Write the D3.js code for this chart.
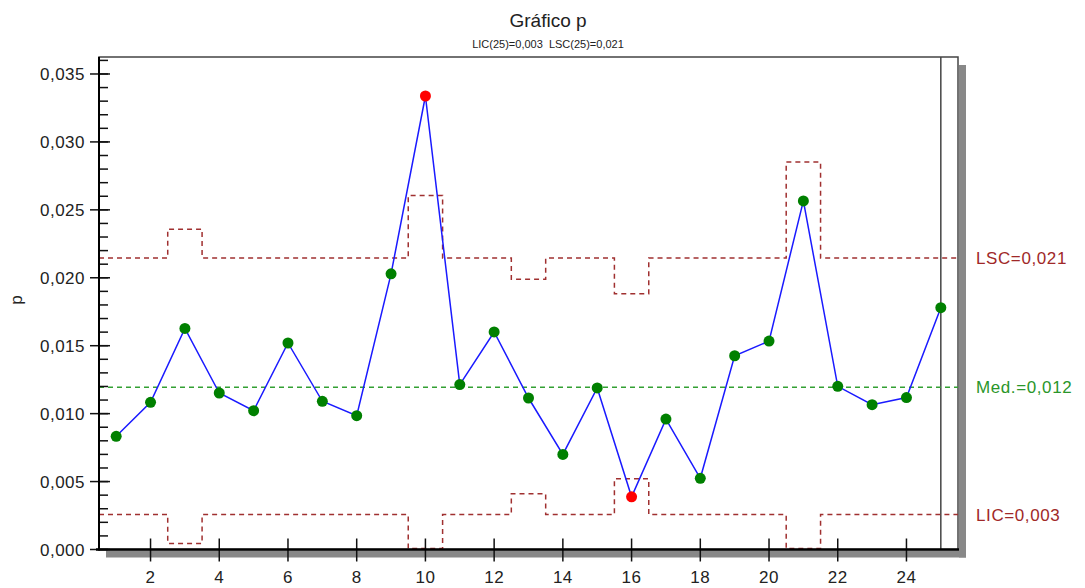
<!DOCTYPE html>
<html>
<head>
<meta charset="utf-8">
<title>Gráfico p</title>
<script src="https://d3js.org/d3.v7.min.js"></script>
<style>
  body { margin: 0; background: #fff; }
  text { font-family: "Liberation Sans", Arial, sans-serif; fill: #222; }
  .tick-label { font-size: 17px; letter-spacing: 0.5px; }
</style>
</head>
<body>
<div id="chart"></div>
<script>
// subgroup numbers and the proportion defective of each one
var subgroups = [1, 2, 3, 4, 5, 6, 7, 8, 9, 10, 11, 12, 13, 14, 15, 16, 17, 18, 19, 20, 21, 22, 23, 24, 25];
var pValues = [0.00833, 0.01083, 0.01627, 0.01152, 0.01022, 0.01520, 0.01091, 0.00985, 0.02029, 0.03338,
               0.01214, 0.01601, 0.01115, 0.00700, 0.01189, 0.00388, 0.00960, 0.00524, 0.01426, 0.01534,
               0.02566, 0.01201, 0.01066, 0.01118, 0.01780];
// control limits (they change with the size of each subgroup)
var ucl = [0.02145, 0.02145, 0.02358, 0.02145, 0.02145, 0.02145, 0.02145, 0.02145, 0.02145, 0.02605,
           0.02145, 0.02145, 0.01990, 0.02145, 0.02145, 0.01882, 0.02145, 0.02145, 0.02145, 0.02145,
           0.02853, 0.02145, 0.02145, 0.02145, 0.02145];
var lcl = [0.00257, 0.00257, 0.00044, 0.00257, 0.00257, 0.00257, 0.00257, 0.00257, 0.00257, 0,
           0.00257, 0.00257, 0.00410, 0.00257, 0.00257, 0.00520, 0.00257, 0.00257, 0.00257, 0.00257,
           0, 0.00257, 0.00257, 0.00257, 0.00257];
var centerValue = 0.01194;
var yTicks = [0, 0.005, 0.010, 0.015, 0.020, 0.025, 0.030, 0.035];
var xTicks = [2, 4, 6, 8, 10, 12, 14, 16, 18, 20, 22, 24];
var limitLabels = ["LSC=0,021", "Med.=0,012", "LIC=0,003"];

var width = 1085, height = 588;
var plotLeft = 99, plotRight = 958, plotTop = 57, plotBottom = 549.5;

var svg = d3.select("#chart").append("svg")
  .attr("width", width)
  .attr("height", height);

var x = d3.scaleLinear().domain([0.5, 25.5]).range([plotLeft, plotRight]);
var y = d3.scaleLinear().domain([0, 0.03625]).range([plotBottom, plotTop]);

var fmt = function(v) { return d3.format(".3f")(v).replace(".", ","); };

// shadow behind the plot frame
svg.append("rect").attr("x", plotRight + 1).attr("y", plotTop + 8).attr("width", 7).attr("height", plotBottom - plotTop)
  .attr("fill", "#888");
svg.append("rect").attr("x", plotLeft + 7).attr("y", plotBottom + 1).attr("width", plotRight - plotLeft + 1).attr("height", 7)
  .attr("fill", "#888");

// plot frame
svg.append("rect").attr("x", plotLeft).attr("y", plotTop).attr("width", plotRight - plotLeft).attr("height", plotBottom - plotTop)
  .attr("fill", "#fff").attr("stroke", "#444").attr("stroke-width", 1.5);

// cursor line at the last subgroup
svg.append("line")
  .attr("x1", x(25)).attr("x2", x(25)).attr("y1", plotTop).attr("y2", plotBottom)
  .attr("stroke", "#444").attr("stroke-width", 1.5);

// step lines for the limits
function stepPoints(vals) {
  var pts = [];
  vals.forEach(function(v, i) {
    pts.push([subgroups[i] - 0.5, v]);
    pts.push([subgroups[i] + 0.5, v]);
  });
  return pts;
}
var stepLine = d3.line().x(function(d) { return x(d[0]); }).y(function(d) { return Math.min(y(d[1]), plotBottom - 1); });

var limitColor = "#a03030";
[ucl, lcl].forEach(function(vals) {
  svg.append("path")
    .attr("d", stepLine(stepPoints(vals)))
    .attr("fill", "none")
    .attr("stroke", limitColor)
    .attr("stroke-width", 1.5)
    .attr("stroke-dasharray", "5,4");
});

// center line
svg.append("line")
  .attr("x1", plotLeft).attr("x2", plotRight)
  .attr("y1", y(centerValue)).attr("y2", y(centerValue))
  .attr("stroke", "#33a033").attr("stroke-width", 1.5).attr("stroke-dasharray", "5,4");

// data line
var line = d3.line().x(function(d, i) { return x(subgroups[i]); }).y(function(d) { return y(d); });
svg.append("path")
  .attr("d", line(pValues))
  .attr("fill", "none")
  .attr("stroke", "#1a1aff")
  .attr("stroke-width", 1.5);

// points, red when out of the limits
svg.selectAll(".pt").data(pValues).enter().append("circle")
  .attr("class", "pt")
  .attr("cx", function(d, i) { return x(subgroups[i]); })
  .attr("cy", function(d) { return y(d); })
  .attr("r", 5.5)
  .attr("fill", function(d, i) { return (d > ucl[i] || d < lcl[i]) ? "#ff0000" : "#008000"; });

// y axis: minor ticks every 0.001 inward, major ticks crossing
var minor = d3.range(0, 37).map(function(k) { return k / 1000; });
svg.selectAll(".minor").data(minor).enter().append("line")
  .attr("x1", plotLeft).attr("x2", plotLeft + 9)
  .attr("y1", function(d) { return y(d); }).attr("y2", function(d) { return y(d); })
  .attr("stroke", "#111").attr("stroke-width", 1.5);
svg.selectAll(".ymajor").data(yTicks).enter().append("line")
  .attr("x1", plotLeft - 9).attr("x2", plotLeft + 11)
  .attr("y1", function(d) { return y(d); }).attr("y2", function(d) { return y(d); })
  .attr("stroke", "#111").attr("stroke-width", 1.5);
svg.selectAll(".ylab").data(yTicks).enter().append("text")
  .attr("class", "tick-label")
  .attr("x", plotLeft - 14)
  .attr("y", function(d) { return y(d) + 6; })
  .attr("text-anchor", "end")
  .text(fmt);

// x axis ticks
svg.selectAll(".xmajor").data(xTicks).enter().append("line")
  .attr("x1", function(d) { return x(d); }).attr("x2", function(d) { return x(d); })
  .attr("y1", plotBottom - 11).attr("y2", plotBottom + 12)
  .attr("stroke", "#111").attr("stroke-width", 1.5);
svg.selectAll(".xlab").data(xTicks).enter().append("text")
  .attr("class", "tick-label")
  .attr("x", function(d) { return x(d); })
  .attr("y", 583)
  .attr("text-anchor", "middle")
  .text(function(d) { return d; });

// axis lines
svg.append("line").attr("x1", plotLeft).attr("x2", plotLeft).attr("y1", plotTop).attr("y2", plotBottom + 1)
  .attr("stroke", "#000").attr("stroke-width", 2);
svg.append("line").attr("x1", plotLeft - 3).attr("x2", plotRight + 1).attr("y1", plotBottom).attr("y2", plotBottom)
  .attr("stroke", "#000").attr("stroke-width", 2.5);

// titles
svg.append("text").attr("x", 548).attr("y", 27).attr("text-anchor", "middle")
  .style("font-size", "19px").text("Gráfico p");
svg.append("text").attr("x", 548).attr("y", 48).attr("text-anchor", "middle")
  .style("font-size", "11px").style("white-space", "pre")
  .text("LIC(25)=" + fmt(0.003) + "  LSC(25)=" + fmt(0.021));
svg.append("text").attr("transform", "translate(22,300) rotate(-90)").attr("text-anchor", "middle")
  .style("font-size", "17px").text("p");

// limit labels on the right
var labelPos = [ucl[24], centerValue, lcl[24]];
var labelColors = ["#a02828", "#2a962a", "#a02828"];
svg.selectAll(".lim").data(limitLabels).enter().append("text")
  .attr("x", 976)
  .attr("y", function(d, i) { return y(labelPos[i]) + 6; })
  .style("font-size", "17px")
  .style("letter-spacing", "0.6px")
  .style("fill", function(d, i) { return labelColors[i]; })
  .text(function(d) { return d; });
</script>
</body>
</html>
